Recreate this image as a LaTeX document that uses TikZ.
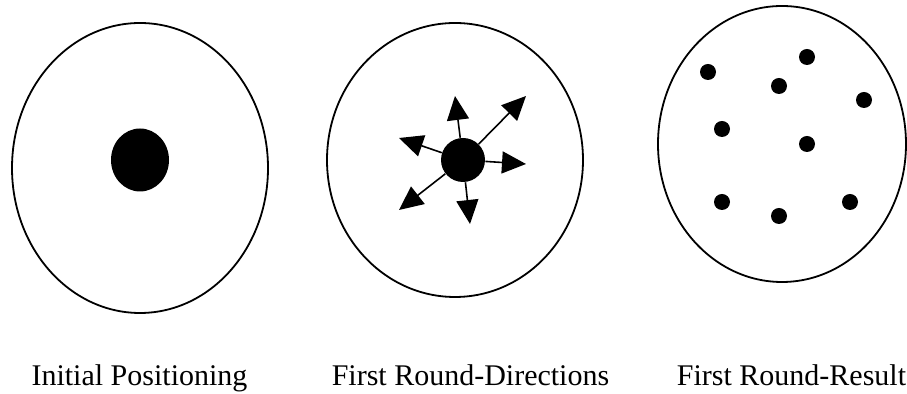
\documentclass[tikz,border=0pt]{standalone}
\usepackage{fontspec}
\setmainfont{Liberation Serif}
\usetikzlibrary{shapes.geometric,arrows.meta}

\begin{document}
\begin{tikzpicture}[x=0.5pt,y=-0.5pt]

      \useasboundingbox (0,0) rectangle (907,394);

      \begin{scope}[every node/.style={ellipse,draw,line width=0.9pt,inner sep=0pt}]
        \node[minimum width=128pt,minimum height=145pt] (e1) at (140,168) {};
        \node[minimum width=128pt,minimum height=137pt] (e2) at (455,160) {};
        \node[minimum width=124pt,minimum height=138pt] (e3) at (782,144) {};
      \end{scope}

      \begin{scope}[every node/.style={ellipse,fill=black,inner sep=0pt}]
        \node[minimum width=29pt,minimum height=31.5pt] (c1) at (140,160) {};
        \node[minimum size=22pt] (c2) at (463,160) {};
      \end{scope}

      \begin{scope}[every node/.style={circle,fill=black,inner sep=0pt,minimum size=8pt}]
        \node (p1) at (708,72)  {};
        \node (p2) at (807,57)  {};
        \node (p3) at (779,86)  {};
        \node (p4) at (864,100) {};
        \node (p5) at (722,129) {};
        \node (p6) at (807,144) {};
        \node (p7) at (722,202) {};
        \node (p8) at (779,216) {};
        \node (p9) at (850,202) {};
      \end{scope}

      \coordinate (t1) at (455,96);
      \coordinate (t2) at (526,96);
      \coordinate (t3) at (399,138);
      \coordinate (t4) at (526,164);
      \coordinate (t5) at (399,210);
      \coordinate (t6) at (470,224);

      \begin{scope}[every edge/.style={draw,line width=0.8pt,-{Triangle[length=12pt,width=11pt]}}]
        \path (c2) edge (t1);
        \path (c2) edge (t2);
        \path (c2) edge (t3);
        \path (c2) edge (t4);
        \path (c2) edge (t5);
        \path (c2) edge (t6);
      \end{scope}

      \begin{scope}[every node/.style={anchor=base,inner sep=0pt,font=\fontsize{15}{18}\selectfont}]
        \node (l1) at (139.5,386) {Initial Positioning};
        \node (l2) at (470.5,386) {First Round-Directions};
        \node (l3) at (791.5,386) {First Round-Result};
      \end{scope}

    \end{tikzpicture}
\end{document}
